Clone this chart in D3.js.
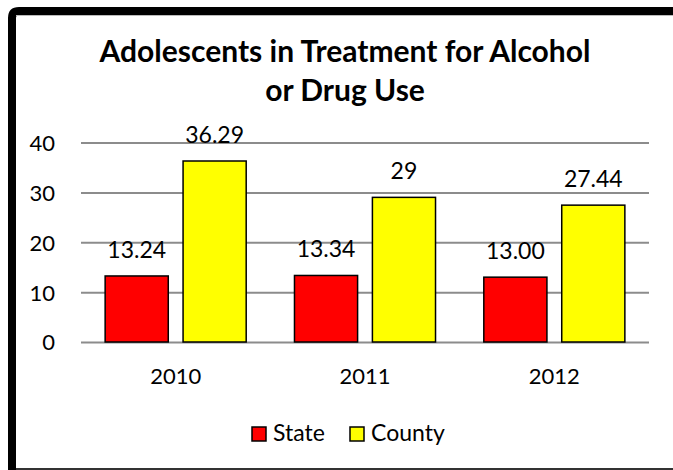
<!DOCTYPE html>
<html>
<head>
<meta charset="utf-8">
<script src="https://cdn.jsdelivr.net/npm/d3@7"></script>
<style>
  html, body { margin: 0; padding: 0; background: #fff; overflow: hidden; }
  svg { display: block; }
  text { font-family: Lato, "Open Sans", sans-serif; fill: #000; }
</style>
</head>
<body>
<div id="chart"></div>
<script>
var years = ["2010", "2011", "2012"];
var series = ["State", "County"];
var stateValues = [13.24, 13.34, 13.00];
var countyValues = [36.29, 29, 27.44];
var stateLabels = ["13.24", "13.34", "13.00"];
var countyLabels = ["36.29", "29", "27.44"];
var yTicks = [0, 10, 20, 30, 40];
var colors = ["#ff0000", "#ffff00"];

var width = 673, height = 470;
var plot = {left: 81, right: 649, top: 142.5, bottom: 342};

var svg = d3.select("#chart")
  .append("svg")
    .attr("width", width)
    .attr("height", height);

// outer frame: only the top and left sides are visible
svg.append("path")
  .attr("d", "M12,480 V18 Q12,11 19,11 H700")
  .attr("fill", "none")
  .attr("stroke", "#000")
  .attr("stroke-width", 8);
svg.append("line")
  .attr("x1", 16).attr("x2", width)
  .attr("y1", 15.5).attr("y2", 15.5)
  .attr("stroke", "#bbb").attr("stroke-width", 1);
svg.append("line")
  .attr("x1", 16).attr("x2", width)
  .attr("y1", 469).attr("y2", 469)
  .attr("stroke", "#333").attr("stroke-width", 2);

// title
var title = svg.append("text")
  .attr("text-anchor", "middle")
  .style("font-weight", "bold")
  .style("font-size", "30px");
title.append("tspan").attr("x", 345).attr("y", 62).text("Adolescents in Treatment for Alcohol");
title.append("tspan").attr("x", 345).attr("y", 101).text("or Drug Use");

var data = years.map(function(y, i) {
  return {
    year: y,
    values: [
      {key: "State", value: stateValues[i], label: stateLabels[i]},
      {key: "County", value: countyValues[i], label: countyLabels[i]}
    ]
  };
});

var x0 = d3.scaleBand()
  .domain(years)
  .range([plot.left, plot.right])
  .paddingInner(0.255)
  .paddingOuter(0.1275);

var x1 = d3.scaleBand()
  .domain(series)
  .range([0, x0.bandwidth()])
  .paddingInner(0.19);

var color = d3.scaleOrdinal().domain(series).range(colors);

var y = d3.scaleLinear()
  .domain([0, 40])
  .range([plot.bottom, plot.top]);

// Y axis + gridlines
var yAxis = svg.append("g")
  .attr("transform", "translate(" + plot.left + ",0)")
  .call(d3.axisLeft(y).tickValues(yTicks).tickSize(-(plot.right - plot.left)).tickPadding(26));
yAxis.select(".domain").remove();
yAxis.selectAll(".tick line").attr("stroke", "#8c8c8c").attr("stroke-width", 2);
yAxis.selectAll(".tick text")
  .style("font-size", "22px")
  .style("font-family", "Lato, sans-serif")
  .attr("fill", "#000")
  .attr("dy", "0.36em");

// X axis labels
var xAxis = svg.append("g")
  .attr("transform", "translate(0," + plot.bottom + ")")
  .call(d3.axisBottom(x0).tickSize(0).tickPadding(26));
xAxis.select(".domain").remove();
xAxis.selectAll(".tick text")
  .style("font-size", "22px")
  .style("font-family", "Lato, sans-serif")
  .attr("fill", "#000");

// Bars
var groups = svg.selectAll("g.year")
  .data(data)
  .enter().append("g")
    .attr("class", "year")
    .attr("transform", function(d) { return "translate(" + x0(d.year) + ",0)"; });

groups.selectAll("rect")
  .data(function(d) { return d.values; })
  .enter().append("rect")
    .attr("x", function(d) { return x1(d.key); })
    .attr("y", function(d) { return y(d.value); })
    .attr("width", x1.bandwidth())
    .attr("height", function(d) { return y(0) - y(d.value); })
    .attr("fill", function(d) { return color(d.key); })
    .attr("stroke", "#000")
    .attr("stroke-width", 1.5);

groups.selectAll("text.val")
  .data(function(d) { return d.values; })
  .enter().append("text")
    .attr("class", "val")
    .attr("x", function(d) { return x1(d.key) + x1.bandwidth() / 2; })
    .attr("y", function(d) { return y(d.value) - 18; })
    .attr("text-anchor", "middle")
    .style("font-size", "23px")
    .text(function(d) { return d.label; });

// Legend
var legend = svg.append("g").attr("transform", "translate(252,427)");
var legX = [0, 98];
series.forEach(function(s, i) {
  var g = legend.append("g").attr("transform", "translate(" + legX[i] + ",0)");
  g.append("rect")
    .attr("width", 14).attr("height", 14)
    .attr("fill", color(s))
    .attr("stroke", "#000").attr("stroke-width", 1.5);
  g.append("text")
    .attr("x", 21).attr("y", 14)
    .style("font-size", "23px")
    .text(s);
});
</script>
</body>
</html>
